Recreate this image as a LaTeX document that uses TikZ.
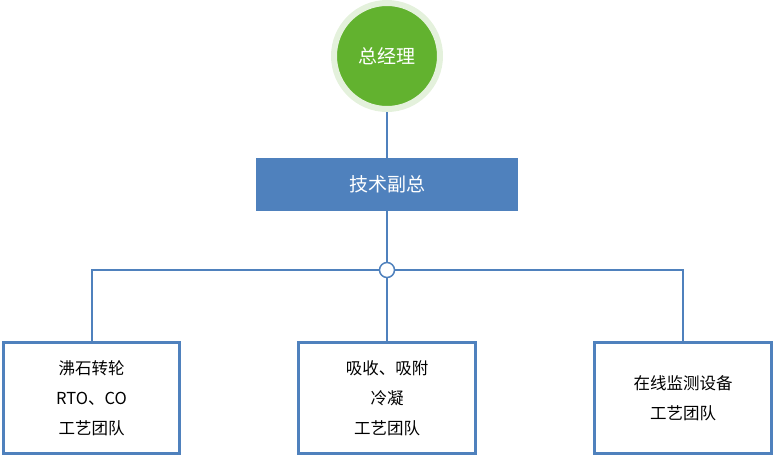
\documentclass[tikz,border=0pt]{standalone}
\usepackage{fontspec}
\setmainfont{Noto Sans CJK SC}
\usetikzlibrary{positioning}

\definecolor{orgblue}{HTML}{4F81BD}
\definecolor{orggreen}{HTML}{62B22F}
\definecolor{orghalo}{HTML}{E4F1DC}

\tikzset{
  link/.style={draw=orgblue, line width=2pt},
  teambox/.style={draw=orgblue, line width=3pt, fill=white, minimum width=176.5pt,
    minimum height=110.5pt, align=center, inner sep=0pt,
    font=\fontsize{16.5}{30}\selectfont}
}

\begin{document}
\begin{tikzpicture}[x=1pt,y=-1pt]
  \useasboundingbox (0,0) rectangle (774,456);
  % Leitung
  \node[circle, fill=orggreen, draw=orghalo, line width=6pt, minimum size=106pt, inner sep=0pt,
    text=white, font=\fontsize{19}{20}\selectfont] (gm) at (387,56) {总经理};
  \node[fill=orgblue, minimum width=262pt, minimum height=53pt, inner sep=0pt,
    text=white, font=\fontsize{19}{20}\selectfont] (vp) at (387,184.5) {技术副总};
  \node[circle, draw=orgblue, fill=white, line width=1.5pt, minimum size=15pt, inner sep=0pt] (hub) at (387,270) {};
  % Teams
  \node[teambox] (rotor) at (91.5,398) {沸石转轮\\RTO、CO\\工艺团队};
  \node[teambox] (absorb) at (387,398) {吸收、吸附\\冷凝\\工艺团队};
  \node[teambox] (monitor) at (683,398) {在线监测设备\\工艺团队};
  % Linien
  \draw[link] (gm) -- (vp);
  \draw[link] (vp) -- (hub);
  \draw[link] (hub.west) -| (rotor.north);
  \draw[link] (hub.east) -| (monitor.north);
  \draw[link] (hub) -- (absorb);
\end{tikzpicture}
\end{document}
